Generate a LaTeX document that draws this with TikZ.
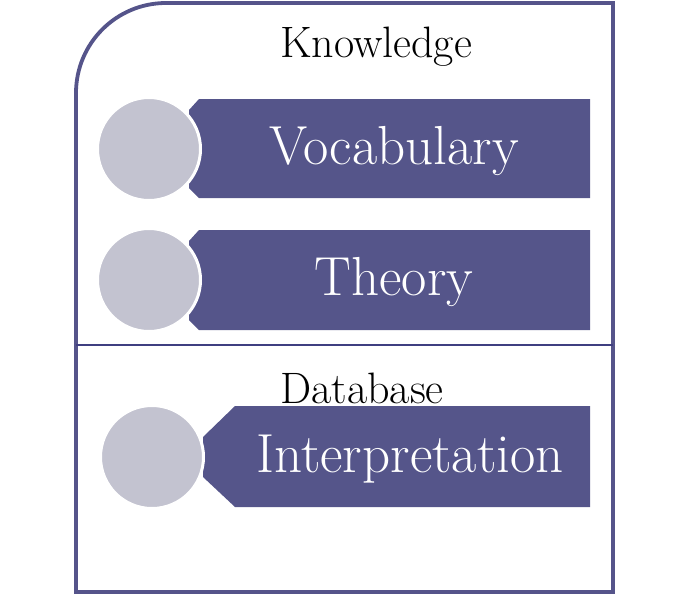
\documentclass[tikz,border=0pt]{standalone}
\usepackage{fontspec}
\definecolor{frame}{HTML}{55548A}
\definecolor{divider}{HTML}{3F3F80}
\definecolor{banner}{HTML}{55558A}
\definecolor{disc}{HTML}{C3C3D0}
\begin{document}
\begin{tikzpicture}[x=1pt,y=-1pt,
  bannerbox/.style={fill=banner,draw=none},
  discnode/.style={circle,fill=disc,draw=white,line width=3pt,minimum size=103pt,inner sep=0pt},
  bigtext/.style={text=white,font=\fontsize{55}{60}\selectfont},
  headtext/.style={text=black,font=\fontsize{44}{50}\selectfont}]
\useasboundingbox (0,0) rectangle (685,595);
% outer frame
\draw[frame,line width=3.8pt] (76,592) -- (76,93) arc[start angle=180,end angle=270,radius=90] -- (613,3) -- (613,592) -- cycle;
% divider
\draw[divider,line width=2pt] (76,345) -- (613,345);
% headings
\node[headtext] (know) at (376,47) {Knowledge};
\node[headtext] (db) at (362,388) {Database};
% banners
\fill[bannerbox] (199,99) -- (590,99) -- (590,198) -- (199,198) -- (189,188) -- (189,110) -- cycle;
\fill[bannerbox] (199,230) -- (590,230) -- (590,330) -- (199,330) -- (189,320) -- (189,241) -- cycle;
\fill[bannerbox] (235,406) -- (590,406) -- (590,507) -- (235,507) -- (203,477) -- (203,437) -- cycle;
% discs
\node[discnode] (c1) at (149,149) {};
\node[discnode] (c2) at (149,280) {};
\node[discnode] (c3) at (152,457) {};
% texts
\node[bigtext] (t1) at (394,151) {Vocabulary};
\node[bigtext] (t2) at (394,282) {Theory};
\node[bigtext] (t3) at (410,459) {Interpretation};
\end{tikzpicture}
\end{document}
